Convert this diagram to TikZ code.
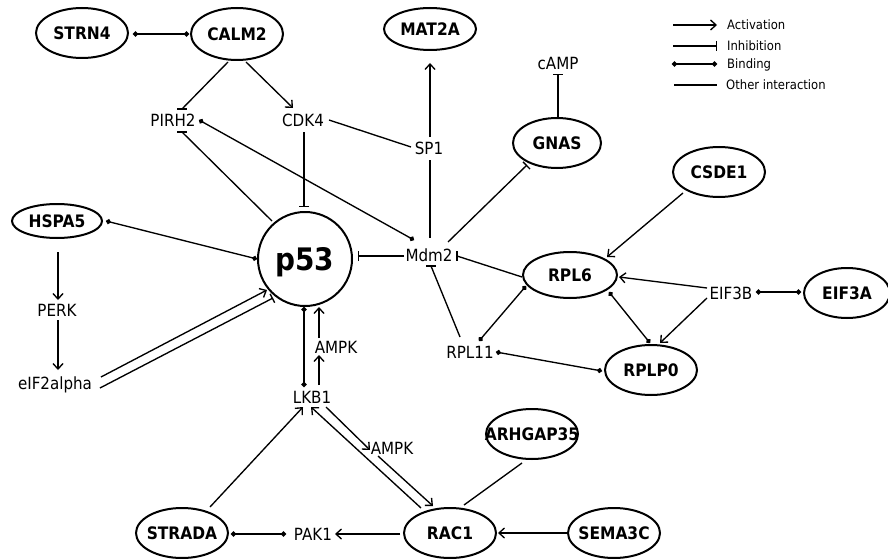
\documentclass[tikz,border=0pt]{standalone}
\usepackage{fontspec}
\setmainfont{DejaVu Sans}[FakeStretch=0.9]
\usetikzlibrary{shapes.geometric,arrows.meta}
\tikzset{
  gene/.style={ellipse, draw, line width=2pt, inner sep=0pt,
    font=\fontsize{17.2}{20}\selectfont\bfseries, text height=12.5pt, text depth=0pt},
  mol/.style={inner sep=0pt, font=\fontsize{16.8}{19}\selectfont, text height=12.2pt, text depth=0pt},
  leg/.style={inner sep=0pt, anchor=west, font=\fontsize{12.9}{15}\selectfont, text height=9.4pt, text depth=0pt},
  lnk/.style={line width=1.35pt},
  act/.style={lnk, -{Straight Barb[length=5.5pt,width=10pt]}},
  inh/.style={lnk, -{Bar[width=10pt,line width=1.35pt]}},
  bind/.style={lnk, {Circle[length=5pt]}-{Circle[length=5pt]}},
  other/.style={lnk},
}
\begin{document}
\begin{tikzpicture}[x=1pt,y=-1pt]
\fill[white] (0,0) rectangle (888,559);
\useasboundingbox (0,0) rectangle (888,559);

% gene nodes (ellipses)
\node[gene, minimum width=92pt, minimum height=50pt] (strn4) at (82,33) {\makebox[0pt]{STRN4}};
\node[gene, minimum width=92pt, minimum height=52pt] (calm2) at (237,34) {\makebox[0pt]{CALM2}};
\node[gene, minimum width=92pt, minimum height=42pt] (mat2a) at (430,29) {\makebox[0pt]{MAT2A}};
\node[gene, minimum width=88pt, minimum height=50pt] (gnas) at (557,143) {\makebox[0pt]{GNAS}};
\node[gene, minimum width=92pt, minimum height=50pt] (csde1) at (719,172) {\makebox[0pt]{CSDE1}};
\node[gene, minimum width=90pt, minimum height=34pt] (hspa5) at (57,221) {\makebox[0pt]{HSPA5}};
\node[gene, minimum width=94pt, minimum height=46pt] (rpl6) at (570,275) {\makebox[0pt]{RPL6}};
\node[gene, minimum width=86pt, minimum height=50pt] (eif3a) at (847,293) {\makebox[0pt]{EIF3A}};
\node[gene, minimum width=92pt, minimum height=50pt] (rplp0) at (651,370) {\makebox[0pt]{RPLP0}};
\node[gene, minimum width=92pt, minimum height=50pt] (arhgap35) at (532,434) {\makebox[0pt]{ARHGAP35}};
\node[gene, minimum width=92pt, minimum height=50pt] (strada) at (182,533) {\makebox[0pt]{STRADA}};
\node[gene, minimum width=92pt, minimum height=50pt] (rac1) at (450,533) {\makebox[0pt]{RAC1}};
\node[gene, minimum width=92pt, minimum height=50pt] (sema3c) at (614,533) {\makebox[0pt]{SEMA3C}};

% p53
\node[circle, draw, line width=2pt, inner sep=0pt, minimum size=94pt,
  font=\fontsize{31}{34}\selectfont\bfseries, text height=22.5pt, text depth=0pt]
  (p53) at (305,259) {\makebox[0pt]{p53}};

% molecule labels
\node[mol] (pirh2) at (173,120) {PIRH2};
\node[mol] (cdk4) at (303,120) {CDK4};
\node[mol] (sp1) at (429,148) {SP1};
\node[mol] (camp) at (558,63) {cAMP};
\node[mol] (mdm2) at (429,255) {Mdm2};
\node[mol] (rpl11) at (470,352) {RPL11};
\node[mol] (eif3b) at (731,293) {EIF3B};
\node[mol] (perk) at (57,310) {PERK};
\node[mol] (eif2a) at (55,383) {eIF2alpha};
\node[mol] (ampk1) at (336,347) {AMPK};
\node[mol] (lkb1) at (312,397) {LKB1};
\node[mol] (ampk2) at (392,448) {AMPK};
\node[mol] (pak1) at (313,534) {PAK1};

% connectors
\draw[bind] ([shift={(51,1)}]strn4.center) -- ([shift={(-48,0)}]calm2.center);
% CALM2 -| PIRH2 (horizontal bar)
\draw[lnk] ([shift={(-9,28)}]calm2.center) -- ([shift={(9,-11)}]pirh2.center);
\draw[lnk] ([shift={(4,-11)}]pirh2.center) -- ([shift={(14,-11)}]pirh2.center);
\draw[act] ([shift={(9,28)}]calm2.center) -- ([shift={(-10,-12)}]cdk4.center);
% p53 -| PIRH2 (horizontal bar)
\draw[lnk] ([shift={(-33,-38)}]p53.center) -- ([shift={(9,12)}]pirh2.center);
\draw[lnk] ([shift={(4,12)}]pirh2.center) -- ([shift={(14,12)}]pirh2.center);
\draw[bind] ([shift={(26,0)}]pirh2.center) -- ([shift={(-15,-15)}]mdm2.center);
\draw[inh] ([shift={(1,12)}]cdk4.center) -- ([shift={(-1,-52)}]p53.center);
\draw[other] ([shift={(26,0)}]cdk4.center) -- ([shift={(-18,-1)}]sp1.center);
\draw[act] ([shift={(1,-11)}]sp1.center) -- ([shift={(0,34)}]mat2a.center);
\draw[other] ([shift={(1,12)}]sp1.center) -- ([shift={(1,-17)}]mdm2.center);
\draw[inh] ([shift={(1,-25)}]gnas.center) -- ([shift={(0,11)}]camp.center);
\draw[inh] ([shift={(19,-13)}]mdm2.center) -- ([shift={(-30,22)}]gnas.center);
\draw[inh] ([shift={(-25,1)}]mdm2.center) -- ([shift={(53,-3)}]p53.center);
% RPL6 -| Mdm2 (vertical bar)
\draw[lnk] ([shift={(-48,2)}]rpl6.center) -- ([shift={(28,1)}]mdm2.center);
\draw[lnk] ([shift={(28,-4)}]mdm2.center) -- ([shift={(28,6)}]mdm2.center);
% RPL11 -| Mdm2 (horizontal bar)
\draw[lnk] ([shift={(-10,-15)}]rpl11.center) -- ([shift={(2,11)}]mdm2.center);
\draw[lnk] ([shift={(-3,11)}]mdm2.center) -- ([shift={(7,11)}]mdm2.center);
\draw[bind] ([shift={(9,-11)}]rpl11.center) -- ([shift={(-44,11)}]rpl6.center);
\draw[bind] ([shift={(26,0)}]rpl11.center) -- ([shift={(-49,1)}]rplp0.center);
\draw[act] ([shift={(-36,21)}]csde1.center) -- ([shift={(37,-18)}]rpl6.center);
\draw[act] ([shift={(-24,-5)}]eif3b.center) -- ([shift={(49,2)}]rpl6.center);
\draw[act] ([shift={(-24,5)}]eif3b.center) -- ([shift={(9,-27)}]rplp0.center);
\draw[bind] ([shift={(39,17)}]rpl6.center) -- ([shift={(-1,-27)}]rplp0.center);
\draw[bind] ([shift={(25,-1)}]eif3b.center) -- ([shift={(-46,-1)}]eif3a.center);
\draw[bind] ([shift={(49,0)}]hspa5.center) -- ([shift={(-48,0)}]p53.center);
\draw[act] ([shift={(1,31)}]hspa5.center) -- ([shift={(1,-10)}]perk.center);
\draw[act] ([shift={(1,10)}]perk.center) -- ([shift={(3,-13)}]eif2a.center);
\draw[act] ([shift={(46,-6)}]eif2a.center) -- ([shift={(-38,31)}]p53.center);
\draw[inh] ([shift={(45,5)}]eif2a.center) -- ([shift={(-32,39)}]p53.center);
\draw[bind] ([shift={(-1,48)}]p53.center) -- ([shift={(-8,-10)}]lkb1.center);
\draw[act] ([shift={(7,-12)}]lkb1.center) -- ([shift={(-17,8)}]ampk1.center);
\draw[act] ([shift={(-17,-9)}]ampk1.center) -- ([shift={(14,48)}]p53.center);
\draw[act] ([shift={(14,10)}]lkb1.center) -- ([shift={(-22,2)}]ampk2.center);
\draw[act] ([shift={(-14,8)}]ampk2.center) -- ([shift={(-17,-27)}]rac1.center);
\draw[act] ([shift={(-29,-25)}]rac1.center) -- ([shift={(-1,10)}]lkb1.center);
\draw[act] ([shift={(28,-26)}]strada.center) -- ([shift={(-9,10)}]lkb1.center);
\draw[bind] ([shift={(49,1)}]strada.center) -- ([shift={(-27,0)}]pak1.center);
\draw[act] ([shift={(-50,1)}]rac1.center) -- ([shift={(22,0)}]pak1.center);
\draw[other] ([shift={(-10,29)}]arhgap35.center) -- ([shift={(14,-28)}]rac1.center);
\draw[act] ([shift={(-47,0)}]sema3c.center) -- ([shift={(48,0)}]rac1.center);

% legend
\node[leg] (lact) at (727,25) {Activation};
\node[leg] (linh) at (727,46) {Inhibition};
\node[leg] (lbind) at (727,64) {Binding};
\node[leg] (loth) at (726,85) {Other interaction};
\draw[act] ([xshift=-54pt]lact.west) -- ([xshift=-10pt]lact.west);
\draw[inh] ([xshift=-54pt]linh.west) -- ([xshift=-10pt]linh.west);
\draw[bind] ([xshift=-55pt]lbind.west) -- ([xshift=-10pt]lbind.west);
\draw[other] ([xshift=-52pt]loth.west) -- ([xshift=-9pt]loth.west);
\end{tikzpicture}
\end{document}
